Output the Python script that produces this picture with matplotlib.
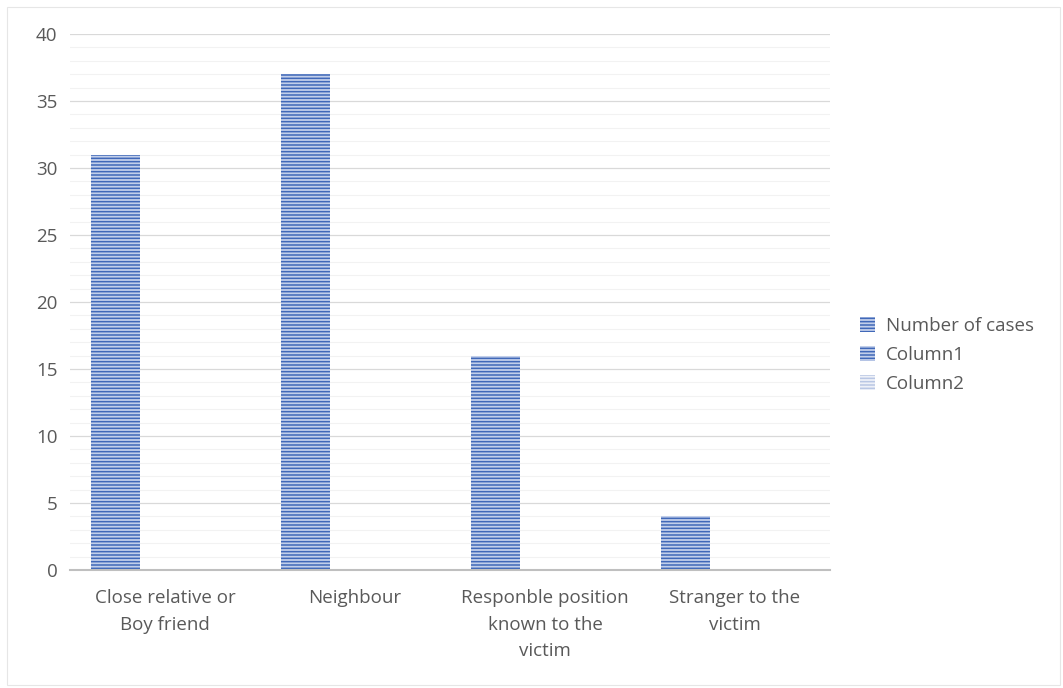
import matplotlib.pyplot as plt
from matplotlib.patches import Rectangle, Patch
import numpy as np

plt.rcParams['font.family'] = ['Open Sans', 'DejaVu Sans']
plt.rcParams['hatch.linewidth'] = 1.1

# data
categories = ['Close relative or\nBoy friend', 'Neighbour',
              'Responble position\nknown to the\nvictim', 'Stranger to the\nvictim']
number_of_cases = [31, 37, 16, 4]
column1 = [0, 0, 0, 0]
column2 = [0, 0, 0, 0]
series_names = ['Number of cases', 'Column1', 'Column2']

blue = '#4068b8'
grey_txt = '#595959'
fs = 13.5

fig = plt.figure(figsize=(10.63, 6.88), dpi=100)
fig.patches.append(Rectangle((7 / 1063, 3 / 688), 1053 / 1063, 678 / 688,
                             transform=fig.transFigure, fill=False,
                             edgecolor='#e6e6e6', linewidth=0.8))
ax = fig.add_axes([70 / 1063, 1 - 570 / 688, 760 / 1063, 536 / 688])

x = np.arange(len(categories))
w = 0.258
ax.bar(x - w, number_of_cases, w, facecolor='#c2cfea', edgecolor=blue,
       hatch='-----', linewidth=0, zorder=3)
ax.bar(x, column1, w, facecolor='#c2cfea', edgecolor=blue, hatch='-----', linewidth=0, zorder=3)
ax.bar(x + w, column2, w, facecolor='#eef1f8', edgecolor='#b9c7e4', hatch='-----', linewidth=0, zorder=3)

ax.set_xlim(-0.5, 3.5)
ax.set_ylim(0, 40)
ax.set_yticks(range(0, 41, 5))
ax.set_yticks(range(0, 41, 1), minor=True)
ax.grid(axis='y', which='major', color='#d9d9d9', linewidth=0.9, zorder=0)
ax.grid(axis='y', which='minor', color='#f2f2f2', linewidth=0.8, zorder=0)
ax.set_xticks(x)
ax.set_xticklabels(categories, color=grey_txt, fontsize=fs, linespacing=1.6)
ax.tick_params(axis='y', colors=grey_txt, labelsize=fs, length=0, pad=9, which='both')
ax.tick_params(axis='x', length=0, pad=14)
for s in ['top', 'right', 'left']:
    ax.spines[s].set_visible(False)
ax.spines['bottom'].set_color('#bfbfbf')
ax.spines['bottom'].set_linewidth(1.5)
ax.spines['bottom'].set_zorder(4)

handles = [Patch(facecolor='#c2cfea', edgecolor=blue, hatch='-----', linewidth=0),
           Patch(facecolor='#c2cfea', edgecolor=blue, hatch='-----', linewidth=0),
           Patch(facecolor='#eef1f8', edgecolor='#b9c7e4', hatch='-----', linewidth=0)]
leg = fig.legend(handles, series_names, loc='center left', bbox_to_anchor=(843 / 1063, 1 - 355 / 688),
                 frameon=False, fontsize=fs, handlelength=0.8, handleheight=0.8,
                 handletextpad=0.6, labelspacing=0.58)
for t in leg.get_texts():
    t.set_color(grey_txt)

fig.savefig('out.png', dpi=100)
